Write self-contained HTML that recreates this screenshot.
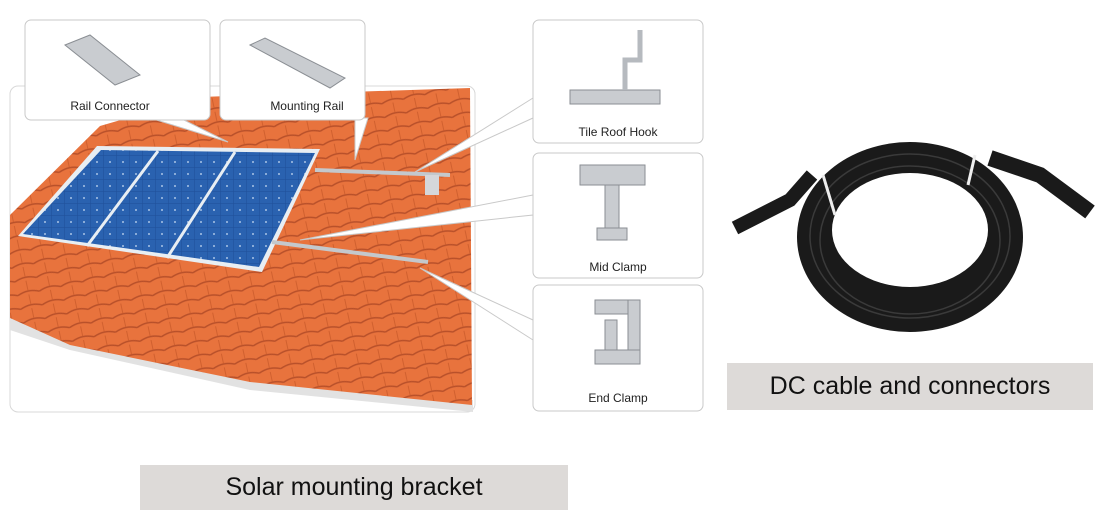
<!DOCTYPE html>
<html><head><meta charset="utf-8"><style>
body{margin:0;width:1102px;height:514px;background:#fff;overflow:hidden;font-family:"Liberation Sans",sans-serif}
.lbl{position:absolute;background:#dddad8;color:#111;font-family:"Liberation Sans",sans-serif;text-align:center}
</style></head><body>
<svg width="1102" height="514" style="position:absolute;left:0;top:0">
<defs>
<pattern id="tile" width="22" height="14" patternUnits="userSpaceOnUse" patternTransform="rotate(-12)">
<rect width="22" height="14" fill="#e8733d"/>
<path d="M0 13 Q11 8 22 13" stroke="#b8502a" stroke-width="1.5" fill="none"/>
<line x1="11" y1="0" x2="11" y2="10" stroke="#d0602f" stroke-width="1"/>
</pattern>
<pattern id="cell" width="13" height="12" patternUnits="userSpaceOnUse">
<rect width="13" height="12" fill="#1f4f98"/>
<rect x="0" y="0" width="12.5" height="11.5" fill="#2a62b0"/>
<circle cx="6" cy="6" r="0.9" fill="#cfe0f5"/>
</pattern>
</defs>
<rect x="10" y="86" width="465" height="326" rx="8" fill="#fff" stroke="#d8d8d8"/>
<path d="M10 330 L70 350 L250 390 L473 412 L473 400 L250 375 L70 338 L10 318Z" fill="#e2e2e2"/>
<polygon points="100,126 200,97 470,88 472,405 250,382 70,345 10,318 10,215" fill="url(#tile)"/>
<!-- panels -->
<polygon points="97,146 320,149 262,272 18,236" fill="#e8eef3"/>
<polygon points="101,150 315,153 259,267 23,234" fill="url(#cell)"/>
<line x1="158" y1="151" x2="87" y2="246" stroke="#e8eef3" stroke-width="3"/>
<line x1="235" y1="152" x2="167" y2="258" stroke="#e8eef3" stroke-width="3"/>
<!-- rails -->
<line x1="315" y1="170" x2="450" y2="175" stroke="#c4c8cc" stroke-width="4"/>
<rect x="425" y="175" width="14" height="20" fill="#d5d7da"/>
<line x1="272" y1="242" x2="428" y2="262" stroke="#c4c8cc" stroke-width="4"/>
<!-- callouts -->
<g fill="#fff" stroke="#c9c9c9" stroke-width="1">
<polygon points="150,118 180,118 228,142"/>
<polygon points="355,118 368,118 355,160"/>
<polygon points="533,98 533,118 415,172"/>
<polygon points="533,195 533,215 300,240"/>
<polygon points="533,320 533,340 420,268"/>
<rect x="25" y="20" width="185" height="100" rx="6"/>
<rect x="220" y="20" width="145" height="100" rx="6"/>
<rect x="533" y="20" width="170" height="123" rx="6"/>
<rect x="533" y="153" width="170" height="125" rx="6"/>
<rect x="533" y="285" width="170" height="126" rx="6"/>
</g>
<!-- part icons -->
<g fill="#c9ccd0" stroke="#8a8e93" stroke-width="1">
<polygon points="65,45 90,35 140,75 115,85"/>
<polygon points="250,45 265,38 345,78 330,88"/>
<rect x="570" y="90" width="90" height="14"/>
<path d="M625 90 L625 60 L640 60 L640 30" fill="none" stroke-width="5" stroke="#b6babf"/>
<rect x="580" y="165" width="65" height="20"/>
<rect x="605" y="185" width="14" height="45"/>
<rect x="597" y="228" width="30" height="12"/>
<rect x="595" y="300" width="45" height="14"/>
<rect x="628" y="300" width="12" height="55"/>
<rect x="605" y="320" width="12" height="30"/>
<rect x="595" y="350" width="45" height="14"/>
</g>
<g font-size="12" fill="#222" text-anchor="middle" font-family="Liberation Sans">
<text x="110" y="110">Rail Connector</text>
<text x="307" y="110">Mounting Rail</text>
<text x="618" y="136">Tile Roof Hook</text>
<text x="618" y="271">Mid Clamp</text>
<text x="618" y="402">End Clamp</text>
</g>
<!-- cable -->
<ellipse cx="910" cy="237" rx="113" ry="95" fill="#1a1a1a"/>
<ellipse cx="910" cy="230" rx="78" ry="57" fill="#fff"/>
<g fill="none" stroke="#3a3a3a" stroke-width="1.5">
<ellipse cx="910" cy="236" rx="100" ry="82"/>
<ellipse cx="910" cy="240" rx="90" ry="74"/>
</g>
<path d="M735 228 L790 200 L812 175" stroke="#1a1a1a" stroke-width="14" fill="none"/>
<path d="M990 158 L1040 175 L1090 212" stroke="#1a1a1a" stroke-width="16" fill="none"/>
<line x1="823" y1="175" x2="835" y2="215" stroke="#eee" stroke-width="3"/>
<line x1="975" y1="155" x2="968" y2="185" stroke="#eee" stroke-width="3"/>
</svg>
<div class="lbl" style="left:727px;top:363px;width:366px;height:47px;line-height:47px;font-size:25px">DC cable and connectors</div>
<div class="lbl" style="left:140px;top:465px;width:428px;height:45px;line-height:45px;font-size:25px">Solar mounting bracket</div>
</body></html>
